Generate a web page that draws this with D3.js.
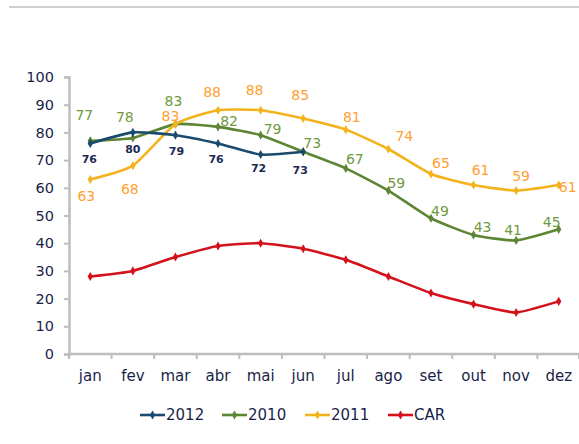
<!DOCTYPE html>
<html>
<head>
<meta charset="utf-8">
<script src="https://cdn.jsdelivr.net/npm/d3@7/dist/d3.min.js"></script>
<style>
  body { margin: 0; background: #fff; }
  svg text { font-family: "DejaVu Sans", Verdana, sans-serif; }
</style>
</head>
<body>
<div id="chart"></div>
<script>

// data
var months = ["jan", "fev", "mar", "abr", "mai", "jun", "jul", "ago", "set", "out", "nov", "dez"];
var yTicks = [0, 10, 20, 30, 40, 50, 60, 70, 80, 90, 100];
var s2012 = [76, 80, 79, 76, 72, 73];
var s2010 = [77, 78, 83, 82, 79, 73, 67, 59, 49, 43, 41, 45];
var s2011 = [63, 68, 83, 88, 88, 85, 81, 74, 65, 61, 59, 61];
var sCAR = [28, 30, 35, 39, 40, 38, 34, 28, 22, 18, 15, 19];
var seriesNames = ["2012", "2010", "2011", "CAR"];

// label nudges (px), like the hand-placed excel labels
var off2012 = {dx: [-1, 0, 1, -2, -2, -3], dy: [16, 17, 16, 16, 14, 18]};
var off2010 = {dx: [-6, -8, -2, 11, 12, 9, 9, 8, 9, 9, -3, -7], dy: [-26, -21, -23, -6, -6, -9, -9, -7, -7, -8, -10, -7]};
var off2011 = {dx: [-4, -3, -5, -6, -6, -3, 6, 16, 10, 7, 5, 9], dy: [17, 23, -8, -18, -20, -23, -13, -13, -11, -15, -14, 2]};

var series = [
    {name: "2012", values: s2012, color: "#1a4a6e", label: "#1b2a55", size: 11, weight: "bold", off: off2012},
    {name: "2010", values: s2010, color: "#5c8534", label: "#6f9a3c", size: 14, weight: "normal", off: off2010},
    {name: "2011", values: s2011, color: "#f2b31c", label: "#ffa030", size: 14, weight: "normal", off: off2011},
    {name: "CAR", values: sCAR, color: "#d4121c", label: null}
];

var W = 579, H = 444;
var svg = d3.select("#chart").append("svg")
    .attr("width", W)
    .attr("height", H);

// top rule
svg.append("line")
    .attr("x1", 9).attr("x2", W).attr("y1", 7).attr("y2", 7)
    .attr("stroke", "#cfcfcf").attr("stroke-width", 2);

var x = d3.scaleBand().domain(months).range([69, 580]);
var y = d3.scaleLinear().domain([0, 100]).range([354, 77]);
var textCol = "#1a1f4a";
var axisCol = "#bdbdbd";

// y axis
var yAxis = svg.append("g")
    .attr("transform", "translate(69,0)")
    .call(d3.axisLeft(y).tickValues(yTicks).tickSize(5).tickPadding(10));
yAxis.select(".domain").attr("stroke", axisCol).attr("stroke-width", 2.5);
yAxis.selectAll(".tick line").attr("stroke", axisCol).attr("stroke-width", 2);
yAxis.selectAll(".tick text")
    .attr("fill", textCol)
    .style("font-size", "14.5px")
    .style("font-family", "DejaVu Sans, sans-serif");

// x axis, ticks on band edges
var xg = svg.append("g").attr("transform", "translate(0,354)");
xg.append("line")
    .attr("x1", 68).attr("x2", W)
    .attr("stroke", axisCol).attr("stroke-width", 2.5);
var edges = months.map(function (m) { return x(m); }).concat([x.range()[1] - 1]);
xg.selectAll(".xt").data(edges).enter()
    .append("line")
    .attr("class", "xt")
    .attr("x1", function (d) { return d; })
    .attr("x2", function (d) { return d; })
    .attr("y1", 0).attr("y2", 5)
    .attr("stroke", axisCol).attr("stroke-width", 2);
xg.selectAll(".xl").data(months).enter()
    .append("text")
    .attr("class", "xl")
    .attr("x", function (d) { return x(d) + x.bandwidth() / 2; })
    .attr("y", 27)
    .attr("text-anchor", "middle")
    .attr("fill", textCol)
    .style("font-size", "15px")
    .text(function (d) { return d; });

var line = d3.line()
    .x(function (d, i) { return x(months[i]) + x.bandwidth() / 2; })
    .y(function (d) { return y(d); })
    .curve(d3.curveCardinal.tension(0.45));

var diamond = d3.symbol().type(d3.symbolDiamond).size(24);

// draw CAR first so the others sit on top
var order = [3, 1, 2, 0];
order.forEach(function (k) {
    var s = series[k];
    var g = svg.append("g").attr("class", "series");
    g.append("path")
        .datum(s.values)
        .attr("d", line)
        .attr("fill", "none")
        .attr("stroke", s.color)
        .attr("stroke-width", 2.6);
    g.selectAll("path.pt").data(s.values).enter()
        .append("path")
        .attr("class", "pt")
        .attr("d", diamond)
        .attr("transform", function (d, i) {
            return "translate(" + (x(months[i]) + x.bandwidth() / 2) + "," + y(d) + ")";
        })
        .attr("fill", s.color);
});

// data labels
series.forEach(function (s) {
    if (!s.label) return;
    svg.append("g").selectAll("text").data(s.values).enter()
        .append("text")
        .attr("x", function (d, i) { return x(months[i]) + x.bandwidth() / 2 + s.off.dx[i]; })
        .attr("y", function (d, i) { return y(d) + s.off.dy[i]; })
        .attr("dy", "0.35em")
        .attr("text-anchor", "middle")
        .attr("fill", s.label)
        .style("font-size", s.size + "px")
        .style("font-weight", s.weight)
        .text(function (d) { return d; });
});

// legend
var legX = [140, 222, 305, 388];
var leg = svg.append("g").attr("transform", "translate(0,415)");
series.forEach(function (s, i) {
    var lg = leg.append("g").attr("transform", "translate(" + legX[i] + ",0)");
    lg.append("line")
        .attr("x1", 0).attr("x2", 25)
        .attr("stroke", s.color).attr("stroke-width", 2.6);
    lg.append("path")
        .attr("d", diamond)
        .attr("transform", "translate(12.5,0)")
        .attr("fill", s.color);
    lg.append("text")
        .attr("x", 26)
        .attr("dy", "0.36em")
        .attr("fill", textCol)
        .style("font-size", "15px")
        .text(seriesNames[i]);
});

</script>
</body>
</html>
